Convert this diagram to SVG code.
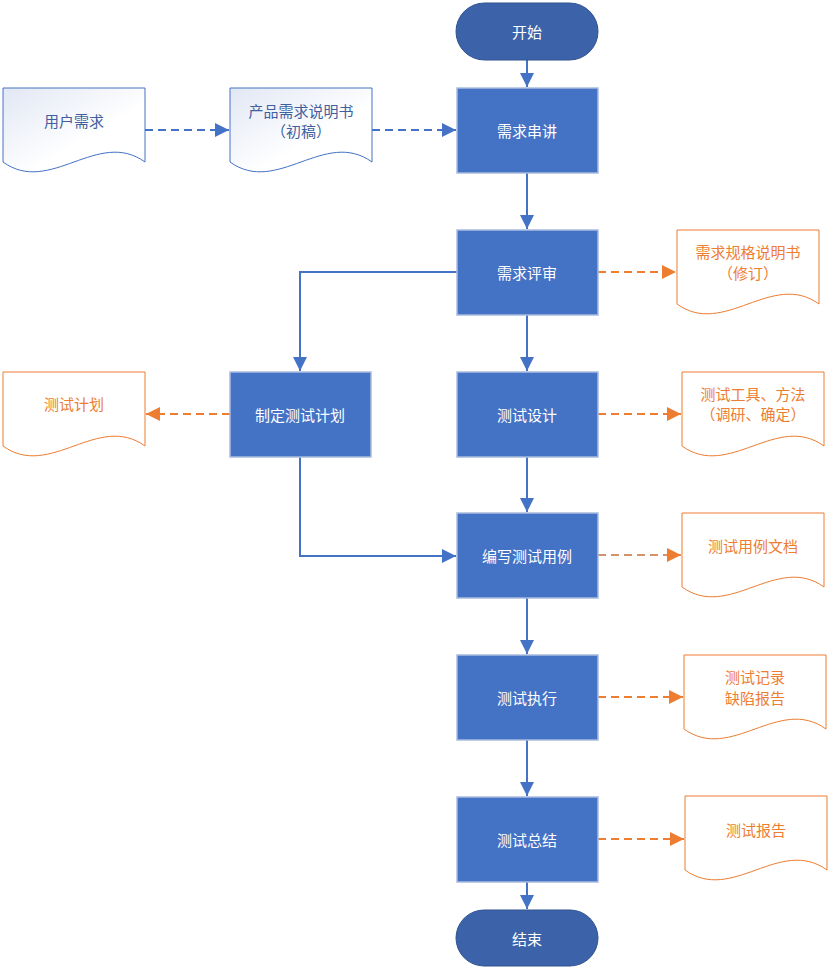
<svg xmlns="http://www.w3.org/2000/svg" width="830" height="970" viewBox="0 0 830 970">
<style>
text{font-family:"Noto Sans CJK SC","Noto Sans",sans-serif;font-size:15px;text-anchor:middle;dominant-baseline:central}
.proc rect{fill:#4472C4;stroke:#A9BCDE;stroke-width:1.5}
.proc text,.term text{fill:#fff}
.term rect{fill:#3C63AA;stroke:#2F528F;stroke-width:1}
.bdoc use{fill:url(#bg);stroke:#4472C4;stroke-width:1}
.bdoc text{fill:#3F5F9E}
.odoc use{fill:#fff;stroke:#ED7D31;stroke-width:1}
.odoc text{fill:#ED7D31}
.solid{fill:none;stroke:#4472C4;stroke-width:2}
.bdash{fill:none;stroke:#4472C4;stroke-width:2;stroke-dasharray:8,5}
.odash{fill:none;stroke:#ED7D31;stroke-width:2;stroke-dasharray:8,5}
</style>
<defs>
<linearGradient id="bg" x1="0" y1="0" x2="1" y2="1">
<stop offset="0" stop-color="#E1E7F4"/>
<stop offset="0.6" stop-color="#FFFFFF"/>
</linearGradient>
<path id="doc" d="M0,0 H142 V74 C95,40 47,108 0,74 Z"/>
<marker id="ab" viewBox="0 0 10 10" refX="10" refY="5" markerWidth="7" markerHeight="7" markerUnits="strokeWidth" orient="auto"><path d="M0,0 L10,5 L0,10 Z" fill="#4472C4"/></marker>
<marker id="ao" viewBox="0 0 10 10" refX="10" refY="5" markerWidth="7" markerHeight="7" markerUnits="strokeWidth" orient="auto"><path d="M0,0 L10,5 L0,10 Z" fill="#ED7D31"/></marker>
</defs>

<g id="connectors">
<path class="solid" d="M527,60 V87" marker-end="url(#ab)"/>
<path class="solid" d="M527,173 V229" marker-end="url(#ab)"/>
<path class="solid" d="M527,315 V371" marker-end="url(#ab)"/>
<path class="solid" d="M527,457 V512" marker-end="url(#ab)"/>
<path class="solid" d="M527,598 V654" marker-end="url(#ab)"/>
<path class="solid" d="M527,740 V796" marker-end="url(#ab)"/>
<path class="solid" d="M527,882 V909" marker-end="url(#ab)"/>
<path class="solid" d="M457,272 H300 V371" marker-end="url(#ab)"/>
<path class="solid" d="M300,457 V556 H456" marker-end="url(#ab)"/>
<path class="bdash" d="M145,130 H229" marker-end="url(#ab)"/>
<path class="bdash" d="M372,130 H456" marker-end="url(#ab)"/>
<path class="odash" d="M598,272 H676" marker-end="url(#ao)"/>
<path class="odash" d="M230,414 H146" marker-end="url(#ao)"/>
<path class="odash" d="M598,414 H681" marker-end="url(#ao)"/>
<path class="odash" d="M598,555 H681" style="stroke:#D4926A" marker-end="url(#ao)"/>
<path class="odash" d="M598,697 H683" marker-end="url(#ao)"/>
<path class="odash" d="M598,839 H684" marker-end="url(#ao)"/>
</g>

<g id="start" class="term"><rect x="456" y="3" width="142" height="57" rx="28.5"/><text x="527" y="31">开始</text></g>
<g id="n1" class="proc"><rect x="457" y="88" width="141" height="85"/><text x="527" y="130">需求串讲</text></g>
<g id="n2" class="proc"><rect x="457" y="230" width="141" height="85"/><text x="527" y="272">需求评审</text></g>
<g id="n3" class="proc"><rect x="457" y="372" width="141" height="85"/><text x="527" y="414">测试设计</text></g>
<g id="n4" class="proc"><rect x="457" y="513" width="141" height="85"/><text x="527" y="555">编写测试用例</text></g>
<g id="n5" class="proc"><rect x="457" y="655" width="141" height="85"/><text x="527" y="697">测试执行</text></g>
<g id="n6" class="proc"><rect x="457" y="797" width="141" height="85"/><text x="527" y="839">测试总结</text></g>
<g id="plan" class="proc"><rect x="230" y="372" width="141" height="85"/><text x="300" y="414">制定测试计划</text></g>
<g id="end" class="term"><rect x="456" y="910" width="142" height="56" rx="28"/><text x="527" y="938">结束</text></g>

<g id="d1" class="bdoc"><use href="#doc" x="3" y="88"/><text x="74" y="120">用户需求</text></g>
<g id="d2" class="bdoc"><use href="#doc" x="230" y="88"/><text x="301" y="110">产品需求说明书</text><text x="301" y="130">（初稿）</text></g>
<g id="d3" class="odoc"><use href="#doc" x="677" y="230"/><text x="748" y="251">需求规格说明书</text><text x="748" y="272">（修订）</text></g>
<g id="d4" class="odoc"><use href="#doc" x="3" y="372"/><text x="74" y="403">测试计划</text></g>
<g id="d5" class="odoc"><use href="#doc" x="682" y="372"/><text x="753" y="393">测试工具、方法</text><text x="753" y="413">（调研、确定）</text></g>
<g id="d6" class="odoc"><use href="#doc" x="682" y="513"/><text x="753" y="545">测试用例文档</text></g>
<g id="d7" class="odoc"><use href="#doc" x="684" y="655"/><text x="755" y="676">测试记录</text><text x="755" y="697">缺陷报告</text></g>
<g id="d8" class="odoc"><use href="#doc" x="685" y="796"/><text x="756" y="829">测试报告</text></g>
</svg>
